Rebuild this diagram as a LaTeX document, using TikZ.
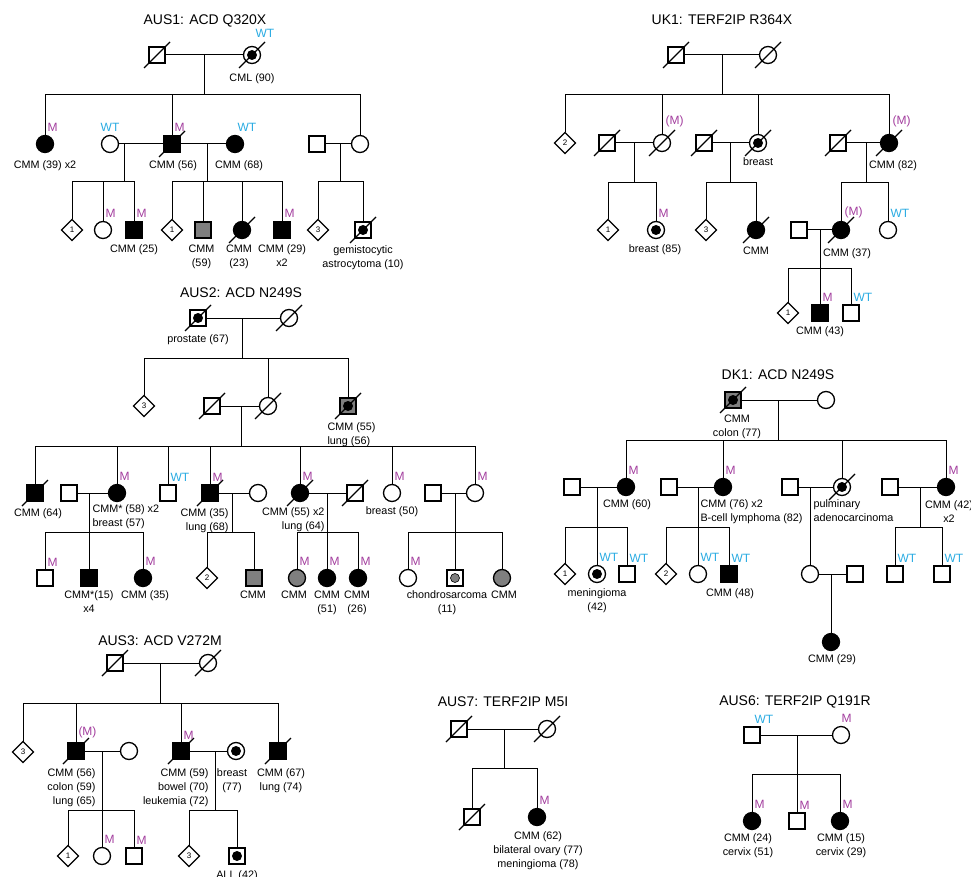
\documentclass[tikz,border=0pt]{standalone}
\usepackage{fontspec}
\setmainfont{Liberation Sans}
\usetikzlibrary{shapes.geometric, positioning, calc}
\definecolor{mutcol}{HTML}{A33E9E}
\definecolor{wtcol}{HTML}{29ABE2}
\definecolor{affgray}{HTML}{7F7F7F}
\tikzset{
  desc_font/.style = {font=\fontsize{10.8}{14}\selectfont},
  tag_font/.style = {font=\fontsize{12}{12}\selectfont},
  title_font/.style = {font=\fontsize{14}{16}\selectfont},
  sym_line/.style = {line width=1.3pt}
}
\tikzset{
  person/.style = {draw, sym_line, fill=white, inner sep=0, outer sep=0},
  male/.style = {person, rectangle, minimum size=16pt},
  female/.style = {person, circle, minimum size=17pt},
  sibs/.style = {person, diamond, minimum size=21pt, font=\fontsize{8}{8}\selectfont},
  affected/.style = {fill=black},
  partial/.style = {fill=affgray},
  carrier/.style = {path picture={\fill[black] (path picture bounding box.center) circle (5pt);}},
  carrier_gray/.style = {path picture={\filldraw[fill=affgray, draw=black, line width=0.6pt] (path picture bounding box.center) circle (4.5pt);}},
  dead/.style = {append after command={
    ($(\tikzlastnode.center)+(-13,13)$) edge[sym_line] ($(\tikzlastnode.center)+(13,-13)$)}},
  title/.style = {title_font},
  desc/.style = {desc_font, align=center, anchor=north, inner sep=0, yshift=-6pt},
  desc_left/.style = {desc, align=left, anchor=north west},
  desc_right/.style = {desc, align=right, anchor=north east},
  mtag/.style = {tag_font, text=mutcol, anchor=base west, inner sep=0, xshift=2pt, yshift=4pt},
  wtag/.style = {mtag, text=wtcol}
}
\begin{document}
\begin{tikzpicture}[x=1pt, y=-1pt, line width=1pt]
\useasboundingbox (0,0) rectangle (971,877);

% ---------------- AUS1 ----------------
\node[title] (a1) at (205,21) {AUS1: ACD Q320X};
% generation I
\node[male, dead] (a1_gf) at (157,55) {};
\node[female, carrier, dead] (a1_gm) at (252,55) {};
\node[wtag, xshift=1pt, yshift=4.5pt] (a1_gm_t) at (a1_gm.north) {WT};
\node[desc, yshift=-3.5pt] (a1_gm_d) at (a1_gm.south) {CML (90)};
% generation II
\node[female, affected] (a1_c1) at (45,144) {};
\node[female] (a1_w1) at (110,144) {};
\node[male, affected, dead] (a1_c2) at (172,144) {};
\node[female, affected] (a1_w2) at (235,144) {};
\node[male] (a1_h3) at (317,144) {};
\node[female] (a1_c3) at (360,144) {};
\node[mtag] (a1_c1_t) at (a1_c1.north) {M};
\node[wtag, anchor=base, xshift=-2pt] (a1_w1_t) at (a1_w1.north) {WT};
\node[mtag] (a1_c2_t) at (a1_c2.north) {M};
\node[wtag] (a1_w2_t) at (a1_w2.north) {WT};
\node[desc, yshift=-1.5pt] (a1_c1_d) at (a1_c1.south) {CMM (39) x2};
\node[desc, yshift=-2pt, xshift=1pt] (a1_c2_d) at (a1_c2.south) {CMM (56)};
\node[desc, yshift=-2pt, xshift=4pt] (a1_w2_d) at (a1_w2.south) {CMM (68)};
% generation III
\node[sibs] (a1_d1) at (72,230) {1};
\node[female] (a1_g2) at (103,230) {};
\node[male, affected] (a1_g3) at (134,230) {};
\node[sibs] (a1_d2) at (172,230) {1};
\node[male, partial] (a1_g5) at (203,230) {};
\node[female, affected, dead] (a1_g6) at (242,230) {};
\node[male, affected] (a1_g7) at (282,230) {};
\node[sibs] (a1_d3) at (318,230) {3};
\node[male, carrier, dead] (a1_g9) at (363,230) {};
\node[mtag] (a1_g2_t) at (a1_g2.north) {M};
\node[mtag] (a1_g3_t) at (a1_g3.north) {M};
\node[mtag] (a1_g7_t) at (a1_g7.north) {M};
\node[desc] (a1_g3_d) at (a1_g3.south) {CMM (25)};
\node[desc, xshift=-1.5pt] (a1_g5_d) at (a1_g5.south) {CMM\\(59)};
\node[desc, xshift=-3pt] (a1_g6_d) at (a1_g6.south) {CMM\\(23)};
\node[desc] (a1_g7_d) at (a1_g7.south) {CMM (29)\\x2};
\node[desc, yshift=-1pt] (a1_g9_d) at (a1_g9.south) {gemistocytic\\astrocytoma (10)};
% lines
\coordinate (a1_j1) at (204,55);  \coordinate (a1_s1) at (204,95);
\coordinate (a1_j2) at (124,144); \coordinate (a1_s2) at (124,182);
\coordinate (a1_j3) at (207,144); \coordinate (a1_s3) at (207,182);
\coordinate (a1_j4) at (340,144); \coordinate (a1_s4) at (340,182);
\draw (a1_gf) -- (a1_gm);
\draw (a1_w1) -- (a1_c2) -- (a1_w2);
\draw (a1_h3) -- (a1_c3);
\draw (a1_j1) -- (a1_s1) (a1_j2) -- (a1_s2) (a1_j3) -- (a1_s3) (a1_j4) -- (a1_s4);
\foreach \c in {a1_c1, a1_c2, a1_c3} \draw (a1_s1) -| (\c);
\foreach \c in {a1_d1, a1_g2, a1_g3} \draw (a1_s2) -| (\c);
\foreach \c in {a1_d2, a1_g5, a1_g6, a1_g7} \draw (a1_s3) -| (\c);
\foreach \c in {a1_d3, a1_g9} \draw (a1_s4) -| (\c);

% ---------------- UK1 ----------------
\node[title] (u1) at (722,20) {UK1: TERF2IP R364X};
% generation I
\node[male, dead] (u1_gf) at (676,55) {};
\node[female, dead] (u1_gm) at (768,55) {};
% generation II
\node[sibs] (u1_c1) at (565,143) {2};
\node[male, dead] (u1_h2) at (607,143) {};
\node[female, dead] (u1_c2) at (662,143) {};
\node[male, dead] (u1_h3) at (704,143) {};
\node[female, carrier, dead] (u1_c3) at (758,143) {};
\node[male, dead] (u1_h4) at (838,143) {};
\node[female, affected, dead] (u1_c4) at (889,143) {};
\node[mtag, xshift=1pt, yshift=5.5pt] (u1_c2_t) at (u1_c2.north) {(M)};
\node[mtag, xshift=1pt, yshift=5.5pt] (u1_c4_t) at (u1_c4.north) {(M)};
\node[desc] (u1_c3_d) at (u1_c3.south) {breast};
\node[desc, xshift=4pt, yshift=-2.5pt] (u1_c4_d) at (u1_c4.south) {CMM (82)};
% generation III
\node[sibs] (u1_g1) at (608,230) {1};
\node[female, carrier] (u1_g2) at (656,230) {};
\node[sibs] (u1_g3) at (706,230) {3};
\node[female, affected, dead] (u1_g4) at (756,230) {};
\node[male] (u1_h5) at (799,230) {};
\node[female, affected, dead] (u1_g5) at (841,230) {};
\node[female] (u1_g6) at (888,230) {};
\node[mtag] (u1_g2_t) at (u1_g2.north) {M};
\node[mtag, xshift=1pt, yshift=1.5pt] (u1_g5_t) at (u1_g5.north) {(M)};
\node[wtag] (u1_g6_t) at (u1_g6.north) {WT};
\node[desc, xshift=-1pt] (u1_g2_d) at (u1_g2.south) {breast (85)};
\node[desc, yshift=-1.5pt] (u1_g4_d) at (u1_g4.south) {CMM};
\node[desc, xshift=6pt, yshift=-3.5pt] (u1_g5_d) at (u1_g5.south) {CMM (37)};
% generation IV
\node[sibs] (u1_e1) at (788,313) {1};
\node[male, affected] (u1_e2) at (820,313) {};
\node[male] (u1_e3) at (851,313) {};
\node[mtag] (u1_e2_t) at (u1_e2.north) {M};
\node[wtag] (u1_e3_t) at (u1_e3.north) {WT};
\node[desc, yshift=1pt] (u1_e2_d) at (u1_e2.south) {CMM (43)};
% lines
\coordinate (u1_j1) at (722,55);  \coordinate (u1_s1) at (722,95);
\coordinate (u1_j2) at (634,143); \coordinate (u1_s2) at (634,183);
\coordinate (u1_j3) at (730,143); \coordinate (u1_s3) at (730,183);
\coordinate (u1_j4) at (866,143); \coordinate (u1_s4) at (866,183);
\coordinate (u1_j5) at (820,230); \coordinate (u1_s5) at (820,268);
\draw (u1_gf) -- (u1_gm);
\draw (u1_h2) -- (u1_c2);
\draw (u1_h3) -- (u1_c3);
\draw (u1_h4) -- (u1_c4);
\draw (u1_h5) -- (u1_g5);
\draw (u1_j1) -- (u1_s1) (u1_j2) -- (u1_s2) (u1_j3) -- (u1_s3) (u1_j4) -- (u1_s4) (u1_j5) -- (u1_s5);
\foreach \c in {u1_c1, u1_c2, u1_c3, u1_c4} \draw (u1_s1) -| (\c);
\foreach \c in {u1_g1, u1_g2} \draw (u1_s2) -| (\c);
\foreach \c in {u1_g3, u1_g4} \draw (u1_s3) -| (\c);
\foreach \c in {u1_g5, u1_g6} \draw (u1_s4) -| (\c);
\foreach \c in {u1_e1, u1_e2, u1_e3} \draw (u1_s5) -| (\c);

% ---------------- AUS2 ----------------
\node[title] (a2) at (241,293) {AUS2: ACD N249S};
% generation I
\node[male, carrier, dead] (a2_gf) at (198,318) {};
\node[female, dead] (a2_gm) at (289,318) {};
\node[desc, yshift=-2pt] (a2_gf_d) at (a2_gf.south) {prostate (67)};
% generation II
\node[sibs] (a2_c1) at (144,406) {3};
\node[male, dead] (a2_h2) at (212,406) {};
\node[female, dead] (a2_c2) at (268,406) {};
\node[male, partial, carrier, dead] (a2_c3) at (348,406) {};
\node[desc_left, xshift=-21pt, yshift=-2pt] (a2_c3_d) at (a2_c3.south) {CMM (55)\\lung (56)};
% generation III
\node[male, affected, dead] (a2_e1) at (35,493) {};
\node[male] (a2_p1) at (69,493) {};
\node[female, affected] (a2_e2) at (117,493) {};
\node[male] (a2_e3) at (168,493) {};
\node[male, affected, dead] (a2_e4) at (210,493) {};
\node[female] (a2_p2) at (258,493) {};
\node[female, affected, dead] (a2_e5) at (300,493) {};
\node[male, dead] (a2_p3) at (355,493) {};
\node[female] (a2_e6) at (392,493) {};
\node[male] (a2_p4) at (433,493) {};
\node[female] (a2_e7) at (475,493) {};
\node[mtag] (a2_e2_t) at (a2_e2.north) {M};
\node[wtag] (a2_e3_t) at (a2_e3.north) {WT};
\node[mtag] (a2_e4_t) at (a2_e4.north) {M};
\node[mtag] (a2_e5_t) at (a2_e5.north) {M};
\node[mtag] (a2_e6_t) at (a2_e6.north) {M};
\node[mtag] (a2_e7_t) at (a2_e7.north) {M};
\node[desc, xshift=3pt, yshift=-1pt] (a2_e1_d) at (a2_e1.south) {CMM (64)};
\node[desc_left, xshift=-25pt, yshift=3pt] (a2_e2_d) at (a2_e2.south) {CMM* (58) x2\\breast (57)};
\node[desc_right, xshift=19pt, yshift=-1pt] (a2_e4_d) at (a2_e4.south) {CMM (35)\\lung (68)};
\node[desc_right, xshift=25pt] (a2_e5_d) at (a2_e5.south) {CMM (55) x2\\lung (64)};
\node[desc, yshift=1pt] (a2_e6_d) at (a2_e6.south) {breast (50)};
% generation IV
\node[male] (a2_f1) at (45,578) {};
\node[male, affected] (a2_f2) at (89,578) {};
\node[female, affected] (a2_f3) at (143,578) {};
\node[sibs] (a2_f4) at (207,578) {2};
\node[male, partial] (a2_f5) at (254,578) {};
\node[female, partial] (a2_f6) at (297,578) {};
\node[female, affected] (a2_f7) at (327,578) {};
\node[female, affected] (a2_f8) at (358,578) {};
\node[female] (a2_f9) at (408,578) {};
\node[male, carrier_gray] (a2_f10) at (455,578) {};
\node[female, partial] (a2_f11) at (502,578) {};
\node[mtag] (a2_f1_t) at (a2_f1.north) {M};
\node[mtag] (a2_f3_t) at (a2_f3.north) {M};
\node[mtag] (a2_f6_t) at (a2_f6.north) {M};
\node[mtag] (a2_f7_t) at (a2_f7.north) {M};
\node[mtag] (a2_f8_t) at (a2_f8.north) {M};
\node[mtag] (a2_f9_t) at (a2_f9.north) {M};
\node[desc, yshift=2pt] (a2_f2_d) at (a2_f2.south) {CMM*(15)\\x4};
\node[desc, xshift=2pt, yshift=2pt] (a2_f3_d) at (a2_f3.south) {CMM (35)};
\node[desc, xshift=-1pt, yshift=2pt] (a2_f5_d) at (a2_f5.south) {CMM};
\node[desc, xshift=-3pt, yshift=2pt] (a2_f6_d) at (a2_f6.south) {CMM};
\node[desc, yshift=2pt] (a2_f7_d) at (a2_f7.south) {CMM\\(51)};
\node[desc, xshift=-1pt, yshift=2pt] (a2_f8_d) at (a2_f8.south) {CMM\\(26)};
\node[desc, xshift=-8pt, yshift=2pt] (a2_f10_d) at (a2_f10.south) {chondrosarcoma\\(11)};
\node[desc, xshift=2pt, yshift=2pt] (a2_f11_d) at (a2_f11.south) {CMM};
% lines
\coordinate (a2_j1) at (242,318); \coordinate (a2_s1) at (242,358);
\coordinate (a2_j2) at (241,406); \coordinate (a2_s2) at (241,446);
\coordinate (a2_j3) at (89,493);  \coordinate (a2_s3) at (89,532);
\coordinate (a2_j4) at (232,493); \coordinate (a2_s4) at (232,532);
\coordinate (a2_j5) at (327,493); \coordinate (a2_s5) at (327,532);
\coordinate (a2_j6) at (455,493); \coordinate (a2_s6) at (455,532);
\draw (a2_gf) -- (a2_gm);
\draw (a2_h2) -- (a2_c2);
\draw (a2_p1) -- (a2_e2);
\draw (a2_e4) -- (a2_p2);
\draw (a2_e5) -- (a2_p3);
\draw (a2_p4) -- (a2_e7);
\draw (a2_j1) -- (a2_s1) (a2_j2) -- (a2_s2) (a2_j3) -- (a2_s3) (a2_j4) -- (a2_s4) (a2_j5) -- (a2_s5) (a2_j6) -- (a2_s6);
\foreach \c in {a2_c1, a2_c2, a2_c3} \draw (a2_s1) -| (\c);
\foreach \c in {a2_e1, a2_e2, a2_e3, a2_e4, a2_e5, a2_e6, a2_e7} \draw (a2_s2) -| (\c);
\foreach \c in {a2_f1, a2_f2, a2_f3} \draw (a2_s3) -| (\c);
\foreach \c in {a2_f4, a2_f5} \draw (a2_s4) -| (\c);
\foreach \c in {a2_f6, a2_f7, a2_f8} \draw (a2_s5) -| (\c);
\foreach \c in {a2_f9, a2_f10, a2_f11} \draw (a2_s6) -| (\c);

% ---------------- DK1 ----------------
\node[title] (d1) at (778,375) {DK1: ACD N249S};
% generation I
\node[male, partial, carrier, dead] (d1_gf) at (733,400) {};
\node[female] (d1_gm) at (826,400) {};
\node[desc, xshift=4pt] (d1_gf_d) at (d1_gf.south) {CMM\\colon (77)};
% generation II
\node[male] (d1_h1) at (572,487) {};
\node[female, affected] (d1_c1) at (626,487) {};
\node[male] (d1_h2) at (669,487) {};
\node[female, affected] (d1_c2) at (723,487) {};
\node[male] (d1_h3) at (790,487) {};
\node[female, carrier, dead] (d1_c3) at (842,487) {};
\node[male] (d1_h4) at (890,487) {};
\node[female, affected] (d1_c4) at (946,487) {};
\node[mtag] (d1_c1_t) at (d1_c1.north) {M};
\node[mtag] (d1_c2_t) at (d1_c2.north) {M};
\node[mtag] (d1_c4_t) at (d1_c4.north) {M};
\node[desc, xshift=1pt, yshift=2.5pt] (d1_c1_d) at (d1_c1.south) {CMM (60)};
\node[desc_left, xshift=-23pt, yshift=2.5pt] (d1_c2_d) at (d1_c2.south) {CMM (76) x2\\B-cell lymphoma (82)};
\node[desc_left, xshift=-29pt, yshift=2.5pt] (d1_c3_d) at (d1_c3.south) {pulminary\\adenocarcinoma};
\node[desc, xshift=3pt, yshift=1pt] (d1_c4_d) at (d1_c4.south) {CMM (42)\\x2};
% generation III
\node[sibs] (d1_g1) at (565,574) {1};
\node[female, carrier] (d1_g2) at (597,574) {};
\node[male] (d1_g3) at (627,574) {};
\node[sibs] (d1_g4) at (666,574) {2};
\node[female] (d1_g5) at (698,574) {};
\node[male, affected] (d1_g6) at (729,574) {};
\node[female] (d1_g7) at (810,574) {};
\node[male] (d1_h5) at (855,574) {};
\node[male] (d1_g8) at (895,574) {};
\node[male] (d1_g9) at (942,574) {};
\node[wtag] (d1_g2_t) at (d1_g2.north) {WT};
\node[wtag] (d1_g3_t) at (d1_g3.north) {WT};
\node[wtag] (d1_g5_t) at (d1_g5.north) {WT};
\node[wtag] (d1_g6_t) at (d1_g6.north) {WT};
\node[wtag] (d1_g8_t) at (d1_g8.north) {WT};
\node[wtag] (d1_g9_t) at (d1_g9.north) {WT};
\node[desc] (d1_g2_d) at (d1_g2.south) {meningioma\\(42)};
\node[desc, xshift=1pt] (d1_g6_d) at (d1_g6.south) {CMM (48)};
% generation IV
\node[female, affected] (d1_k1) at (831,642) {};
\node[desc, xshift=1pt, yshift=2.5pt] (d1_k1_d) at (d1_k1.south) {CMM (29)};
% lines
\coordinate (d1_j1) at (778,400); \coordinate (d1_s1) at (778,440);
\coordinate (d1_j2) at (597,487); \coordinate (d1_s2) at (597,527);
\coordinate (d1_j3) at (698,487); \coordinate (d1_s3) at (698,527);
\coordinate (d1_j4) at (810,487);
\coordinate (d1_j5) at (920,487); \coordinate (d1_s5) at (920,527);
\coordinate (d1_j6) at (831,574);
\draw (d1_gf) -- (d1_gm);
\draw (d1_h1) -- (d1_c1);
\draw (d1_h2) -- (d1_c2);
\draw (d1_h3) -- (d1_c3);
\draw (d1_h4) -- (d1_c4);
\draw (d1_g7) -- (d1_h5);
\draw (d1_j1) -- (d1_s1) (d1_j2) -- (d1_s2) (d1_j3) -- (d1_s3) (d1_j5) -- (d1_s5);
\draw (d1_j4) -- (d1_g7);
\draw (d1_j6) -- (d1_k1);
\foreach \c in {d1_c1, d1_c2, d1_c3, d1_c4} \draw (d1_s1) -| (\c);
\foreach \c in {d1_g1, d1_g2, d1_g3} \draw (d1_s2) -| (\c);
\foreach \c in {d1_g4, d1_g5, d1_g6} \draw (d1_s3) -| (\c);
\foreach \c in {d1_g8, d1_g9} \draw (d1_s5) -| (\c);

% ---------------- AUS3 ----------------
\node[title] (a3) at (160,641) {AUS3: ACD V272M};
% generation I
\node[male, dead] (a3_gf) at (115,663) {};
\node[female, dead] (a3_gm) at (208,663) {};
% generation II
\node[sibs] (a3_c1) at (23,752) {3};
\node[male, affected, dead] (a3_c2) at (76,751) {};
\node[female] (a3_p1) at (129,751) {};
\node[male, affected, dead] (a3_c3) at (181,751) {};
\node[female, carrier] (a3_p2) at (236,751) {};
\node[male, affected, dead] (a3_c4) at (278,751) {};
\node[mtag, yshift=4pt] (a3_c2_t) at (a3_c2.north) {(M)};
\node[mtag] (a3_c3_t) at (a3_c3.north) {M};
\node[desc_right, xshift=20pt, yshift=-3pt] (a3_c2_d) at (a3_c2.south) {CMM (56)\\colon (59)\\lung (65)};
\node[desc_right, xshift=28pt, yshift=-3pt] (a3_c3_d) at (a3_c3.south) {CMM (59)\\bowel (70)\\leukemia (72)};
\node[desc, xshift=-4pt, yshift=-3pt] (a3_p2_d) at (a3_p2.south) {breast\\(77)};
\node[desc, xshift=3pt, yshift=-3pt] (a3_c4_d) at (a3_c4.south) {CMM (67)\\lung (74)};
% generation III
\node[sibs] (a3_g1) at (68,856) {1};
\node[female] (a3_g2) at (102,856) {};
\node[male] (a3_g3) at (134,856) {};
\node[sibs] (a3_g4) at (189,856) {3};
\node[male, carrier] (a3_g5) at (237,856) {};
\node[mtag] (a3_g2_t) at (a3_g2.north) {M};
\node[mtag] (a3_g3_t) at (a3_g3.north) {M};
\node[desc] (a3_g5_d) at (a3_g5.south) {ALL (42)};
% lines
\coordinate (a3_j1) at (160,663); \coordinate (a3_s1) at (160,703);
\coordinate (a3_j2) at (102,751); \coordinate (a3_s2) at (102,810);
\coordinate (a3_j3) at (215,751); \coordinate (a3_s3) at (215,810);
\draw (a3_gf) -- (a3_gm);
\draw (a3_c2) -- (a3_p1);
\draw (a3_c3) -- (a3_p2);
\draw (a3_j1) -- (a3_s1) (a3_j2) -- (a3_s2) (a3_j3) -- (a3_s3);
\foreach \c in {a3_c1, a3_c2, a3_c3, a3_c4} \draw (a3_s1) -| (\c);
\foreach \c in {a3_g1, a3_g2, a3_g3} \draw (a3_s2) -| (\c);
\foreach \c in {a3_g4, a3_g5} \draw (a3_s3) -| (\c);

% ---------------- AUS7 ----------------
\node[title] (a7) at (503,702) {AUS7: TERF2IP M5I};
\node[male, dead] (a7_gf) at (459,729) {};
\node[female, dead] (a7_gm) at (547,729) {};
\node[male, dead] (a7_c1) at (472,817) {};
\node[female, affected] (a7_c2) at (537,817) {};
\node[mtag] (a7_c2_t) at (a7_c2.north) {M};
\node[desc, xshift=1pt] (a7_c2_d) at (a7_c2.south) {CMM (62)\\bilateral ovary (77)\\meningioma (78)};
% lines
\coordinate (a7_j1) at (504,729); \coordinate (a7_s1) at (504,768);
\draw (a7_gf) -- (a7_gm);
\draw (a7_j1) -- (a7_s1);
\foreach \c in {a7_c1, a7_c2} \draw (a7_s1) -| (\c);

% ---------------- AUS6 ----------------
\node[title] (a6) at (795,702) {AUS6: TERF2IP Q191R};
\node[male] (a6_gf) at (752,735) {};
\node[female] (a6_gm) at (841,735) {};
\node[wtag] (a6_gf_t) at (a6_gf.north) {WT};
\node[mtag, xshift=-2pt] (a6_gm_t) at (a6_gm.north) {M};
\node[female, affected] (a6_c1) at (752,821) {};
\node[male] (a6_c2) at (797,821) {};
\node[female, affected] (a6_c3) at (840,821) {};
\node[mtag] (a6_c1_t) at (a6_c1.north) {M};
\node[mtag] (a6_c2_t) at (a6_c2.north) {M};
\node[mtag] (a6_c3_t) at (a6_c3.north) {M};
\node[desc, xshift=-4pt, yshift=2.5pt] (a6_c1_d) at (a6_c1.south) {CMM (24)\\cervix (51)};
\node[desc, xshift=1pt, yshift=2.5pt] (a6_c3_d) at (a6_c3.south) {CMM (15)\\cervix (29)};
% lines
\coordinate (a6_j1) at (797,735); \coordinate (a6_s1) at (797,774);
\draw (a6_gf) -- (a6_gm);
\draw (a6_j1) -- (a6_s1);
\foreach \c in {a6_c1, a6_c2, a6_c3} \draw (a6_s1) -| (\c);
\end{tikzpicture}
\end{document}
